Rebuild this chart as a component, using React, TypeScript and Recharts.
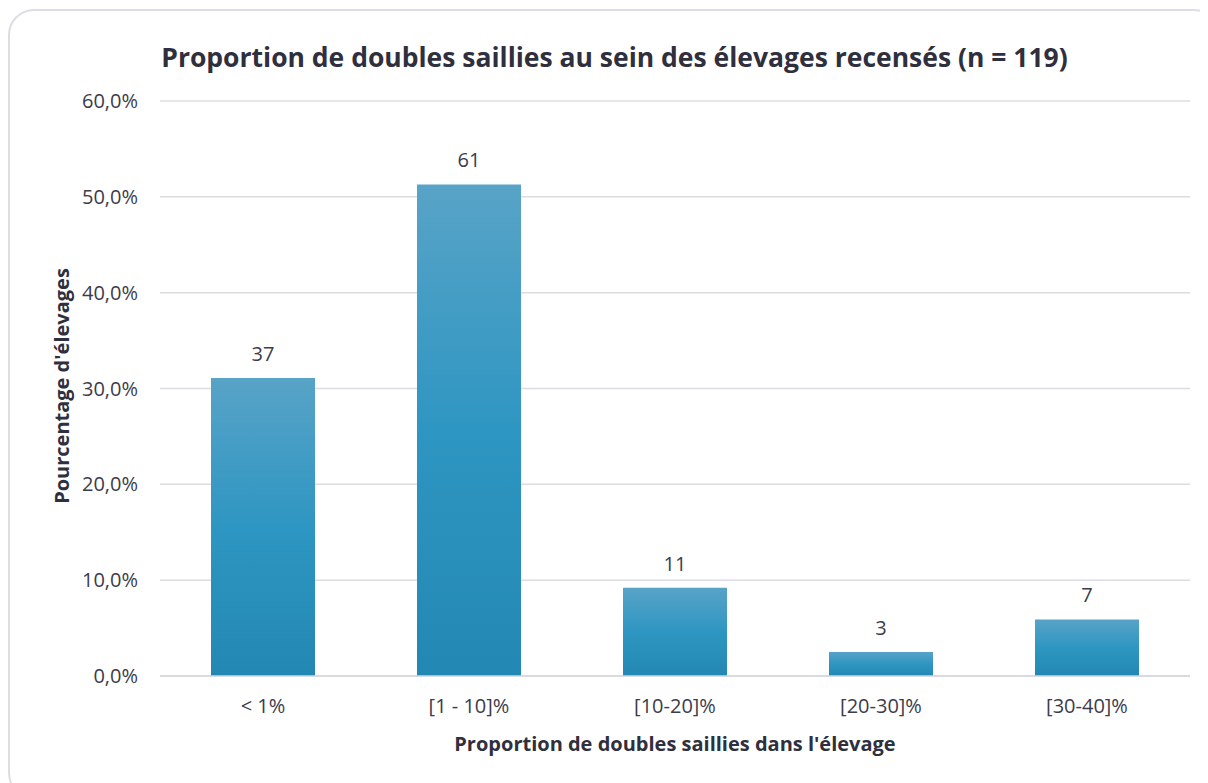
import { BarChart, Bar, XAxis, YAxis, CartesianGrid, LabelList } from 'recharts';

const categories = ['< 1%', '[1 - 10]%', '[10-20]%', '[20-30]%', '[30-40]%'];
const percentages = [31.1, 51.3, 9.2, 2.5, 5.9];
const counts = [37, 61, 11, 3, 7];
const yTicks = [0, 10, 20, 30, 40, 50, 60];

const data = categories.map((name, i) => ({ name, pct: percentages[i], count: counts[i] }));

const FONT = '"Open Sans", Lato, sans-serif';
const TEXT = '#3c3c4a';

export default function App() {
  return (
    <div style={{ position: 'relative', width: 1200, height: 775, overflow: 'hidden', fontFamily: FONT, background: '#fff' }}>
      {/* frame */}
      <div style={{ position: 'absolute', left: 0, top: 1, width: 1212, height: 790, border: '2px solid #dedde6', borderRadius: 26, boxSizing: 'border-box' }} />

      <div style={{ position: 'absolute', left: 0, width: 1213, top: 31, textAlign: 'center', fontSize: 26.5, fontWeight: 700, color: '#2f2f3d', whiteSpace: 'nowrap' }}>
        Proportion de doubles saillies au sein des élevages recensés (n = 119)
      </div>

      <div style={{ position: 'absolute', left: 53, top: 378, width: 0, height: 0 }}>
        <div style={{ position: 'absolute', transform: 'translate(-50%, -50%) rotate(-90deg)', whiteSpace: 'nowrap', fontSize: 20, fontWeight: 700, color: '#2f2f3d' }}>
          Pourcentage d'élevages
        </div>
      </div>

      <div style={{ position: 'absolute', left: 152, width: 1030, top: 722, textAlign: 'center', fontSize: 20, fontWeight: 700, color: '#2f2f3d' }}>
        Proportion de doubles saillies dans l'élevage
      </div>

      <div style={{ position: 'absolute', left: 0, top: 0 }}>
        <BarChart width={1200} height={775} data={data} margin={{ top: 93, right: 18, bottom: 67, left: 52 }}>
          <defs>
            <linearGradient id="barGrad" x1="0" y1="0" x2="0" y2="1">
              <stop offset="0%" stopColor="#58a3c7" />
              <stop offset="50%" stopColor="#2e96c2" />
              <stop offset="100%" stopColor="#2387b3" />
            </linearGradient>
          </defs>
          <CartesianGrid vertical={false} stroke="#dcdce3" strokeWidth={1.5} />
          <XAxis
            dataKey="name"
            height={40}
            tickLine={false}
            axisLine={{ stroke: '#d6d6de', strokeWidth: 1.5 }}
            tickMargin={17}
            tick={{ fill: TEXT, fontSize: 20, fontFamily: FONT }}
          />
          <YAxis
            width={100}
            domain={[0, 60]}
            ticks={yTicks}
            interval={0}
            tickLine={false}
            axisLine={false}
            tickMargin={16}
            tickFormatter={(v: number) => `${v.toFixed(1).replace('.', ',')}%`}
            tick={{ fill: TEXT, fontSize: 20, fontFamily: FONT }}
          />
          <Bar dataKey="pct" fill="url(#barGrad)" barSize={104} isAnimationActive={false}>
            <LabelList dataKey="count" position="top" offset={17} style={{ fill: TEXT, fontSize: 20, fontFamily: FONT }} />
          </Bar>
        </BarChart>
      </div>
    </div>
  );
}
